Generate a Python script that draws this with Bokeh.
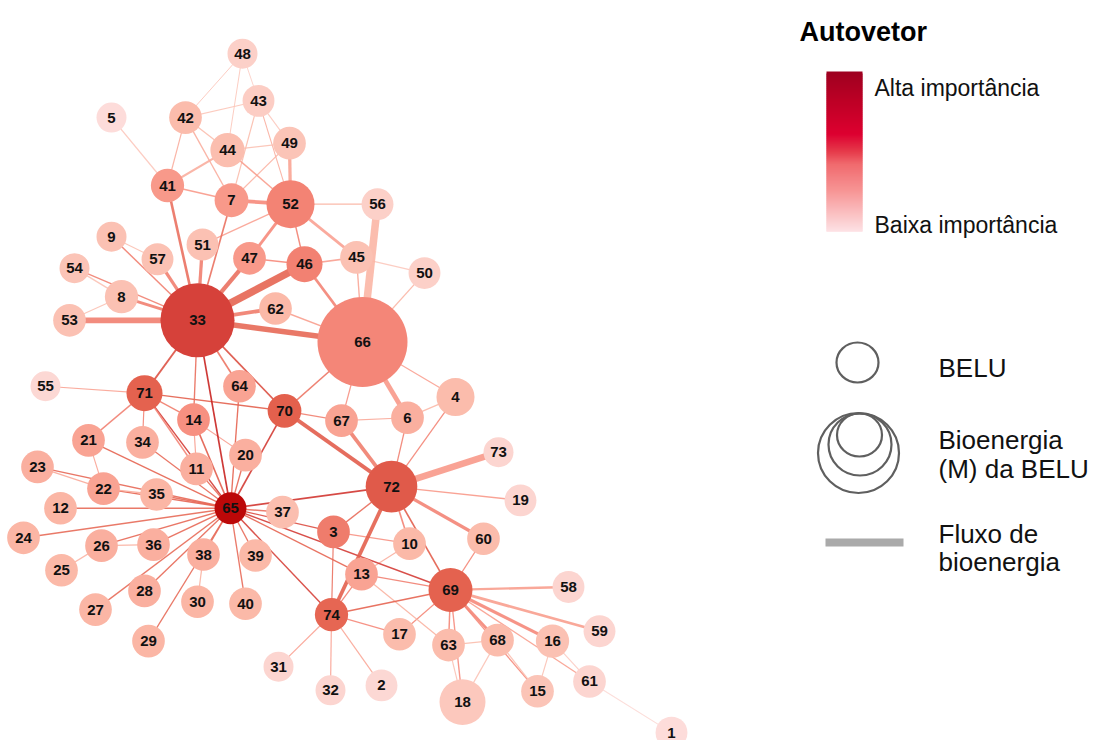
import numpy as np
from bokeh.plotting import figure
from bokeh.models import ColumnDataSource, Range1d, LinearColorMapper
from bokeh.transform import transform
from bokeh.core.properties import value
from bokeh.embed import file_html
from bokeh.resources import INLINE

# ---------------- data ----------------
node_id = list(range(1, 75))
# layout coordinates of each BELU (network layout)
node_x = [671, 381, 333, 455, 111, 407, 231, 121, 111, 409,
          196, 60, 361, 193, 537, 552, 399, 462, 520, 245,
          88, 103, 37, 23, 61, 101, 95, 144, 148, 197,
          278, 330, 197, 142, 156, 153, 282, 203, 255, 245,
          167, 185, 258, 227, 356, 304, 249, 242, 289, 424,
          202, 290, 69, 74, 45, 377, 157, 568, 599, 483,
          589, 275, 448, 239, 230, 362, 341, 497, 450, 284,
          144, 391, 498, 331]
node_y = [744, 696, 540, 403, 119, 424, 203, 301, 240, 552,
          476, 516, 583, 426, 702, 651, 644, 713, 508, 462,
          447, 496, 474, 546, 579, 554, 619, 600, 651, 611,
          677, 701, 325, 449, 502, 553, 520, 563, 564, 613,
          188, 119, 102, 152, 261, 268, 262, 54, 145, 277,
          248, 207, 325, 272, 392, 207, 263, 596, 641, 547,
          692, 313, 655, 392, 516, 347, 427, 650, 599, 417,
          399, 494, 459, 624]
# eigenvector centrality (relative)
eigen = [0.08, 0.12, 0.60, 0.33, 0.08, 0.38, 0.45, 0.30, 0.30, 0.35,
         0.38, 0.36, 0.42, 0.48, 0.28, 0.30, 0.33, 0.25, 0.15, 0.38,
         0.42, 0.42, 0.38, 0.36, 0.35, 0.38, 0.36, 0.38, 0.36, 0.36,
         0.15, 0.15, 0.85, 0.38, 0.36, 0.38, 0.32, 0.38, 0.35, 0.35,
         0.45, 0.33, 0.22, 0.32, 0.30, 0.56, 0.45, 0.20, 0.28, 0.20,
         0.30, 0.55, 0.30, 0.28, 0.12, 0.20, 0.30, 0.15, 0.15, 0.33,
         0.15, 0.35, 0.33, 0.42, 1.00, 0.52, 0.42, 0.33, 0.72, 0.73,
         0.72, 0.75, 0.15, 0.70]
# bioenergy (M) of each BELU
bioenergy = [1, 1, 2, 18, 0, 2, 4, 3, 0, 2,
             2, 2, 2, 2, 2, 3, 2, 71, 1, 2,
             2, 2, 2, 2, 2, 2, 2, 2, 2, 2,
             0, 0, 540, 2, 2, 2, 2, 2, 2, 2,
             3, 2, 1, 5, 2, 10, 2, 0, 2, 1,
             1, 90, 2, 0, 0, 1, 1, 1, 1, 2,
             2, 2, 2, 2, 1, 1000, 2, 2, 54, 4,
             10, 130, 0, 3]

# bioenergy flows (edges)
edge_from = [48, 48, 48, 43, 43, 43, 43, 42, 42, 42, 44, 44, 44, 49, 49, 5, 41, 41, 7, 7,
             52, 52, 52, 52, 52, 46, 46, 46, 46, 45, 45, 56, 50, 9, 9, 57, 51, 54, 54, 8,
             8, 53, 62, 62, 33, 47,
             33, 33, 33, 33, 33, 71, 71, 71, 71, 71, 71, 71, 14, 14, 14, 64, 70, 20, 11, 70,
             70, 70, 66, 66, 66, 67, 67, 6, 6, 4, 72, 72, 72, 72, 72, 72, 72, 72,
             21, 21, 23, 23, 22, 22, 35, 12, 24, 26, 26, 25, 36, 27, 28, 29, 38, 30, 40, 39,
             34, 37,
             3, 3, 3, 65, 65, 65, 13, 13, 13, 13, 74, 74, 74, 74, 74, 69, 69, 69, 69, 69,
             69, 69, 69, 69, 69, 63, 63, 68, 68, 16, 16, 61]
edge_to = [42, 44, 43, 42, 49, 52, 7, 44, 41, 7, 49, 41, 52, 7, 52, 41, 7, 33, 52, 33,
           51, 47, 46, 45, 56, 47, 45, 66, 33, 66, 50, 66, 66, 57, 33, 33, 33, 8, 33, 53,
           33, 33, 33, 66, 66, 33,
           71, 14, 65, 64, 70, 55, 70, 14, 21, 34, 11, 65, 11, 65, 20, 65, 65, 65, 65, 66,
           67, 72, 67, 6, 4, 6, 72, 4, 72, 72, 73, 19, 60, 65, 3, 10, 69, 74,
           22, 65, 22, 65, 35, 65, 65, 65, 65, 36, 65, 26, 65, 65, 65, 65, 65, 38, 65, 65,
           65, 65,
           65, 74, 10, 69, 74, 13, 74, 69, 10, 63, 69, 17, 31, 32, 2, 17, 63, 68, 16, 59,
           58, 60, 15, 61, 18, 68, 18, 18, 15, 15, 61, 1]
edge_flow = [0.1, 0.1, 0.1, 0.2, 0.2, 0.2, 0.3, 0.4, 0.3, 0.5, 0.3, 1.2, 0.6, 0.3, 2.5, 0.4, 0.6, 1.8, 3.0, 0.8,
             0.5, 2.2, 0.6, 2.0, 0.3, 0.5, 0.8, 2.0, 7.0, 0.5, 0.3, 7.0, 0.4, 0.2, 0.6, 2.5, 2.5, 0.6, 0.5, 0.3,
             2.2, 5.0, 3.0, 0.5, 5.0, 3.5,
             1.0, 0.5, 0.8, 0.8, 0.8, 0.3, 0.5, 0.5, 0.5, 0.3, 0.8, 0.5, 0.3, 0.8, 0.3, 0.5, 0.8, 0.5, 0.5, 0.6,
             0.4, 3.0, 0.4, 4.0, 0.4, 0.3, 3.0, 0.5, 0.4, 0.4, 6.0, 0.6, 2.5, 0.8, 0.5, 0.8, 0.8, 3.0,
             0.3, 0.5, 0.5, 0.5, 0.5, 0.5, 0.5, 0.5, 0.6, 0.5, 0.5, 0.5, 0.5, 0.5, 0.5, 0.4, 0.5, 0.4, 0.5, 0.5,
             0.4, 0.5,
             0.5, 0.3, 0.3, 0.6, 0.6, 0.5, 0.4, 0.4, 0.3, 0.3, 0.7, 0.4, 0.3, 0.3, 0.3, 0.3, 0.6, 2.0, 2.5, 2.0,
             1.5, 0.4, 0.4, 0.4, 0.5, 0.3, 0.3, 0.3, 0.4, 0.3, 0.3, 0.2]

legend_title = "Autovetor"
legend_high = "Alta importância"
legend_low = "Baixa importância"
legend_items = ["BELU", "Bioenergia", "(M) da BELU", "Fluxo de", "bioenergia"]

# ---------------- styling helpers ----------------
def interp_palette(anchors, n=256):
    pos = np.array([a[0] for a in anchors])
    rgb = np.array([[int(a[1][i:i + 2], 16) for i in (1, 3, 5)] for a in anchors], dtype=float)
    t = np.linspace(0, 1, n)
    out = []
    for tt in t:
        c = [np.interp(tt, pos, rgb[:, k]) for k in range(3)]
        out.append("#%02x%02x%02x" % tuple(int(round(v)) for v in c))
    return out

node_palette = interp_palette([(0.0, "#fde4e6"), (0.2, "#fcd0c8"), (0.35, "#fbb9a8"),
                               (0.5, "#f6897b"), (0.6, "#ef7c6c"), (0.72, "#e4624f"),
                               (0.85, "#d6413a"), (1.0, "#bc0808")])
mapper = LinearColorMapper(palette=node_palette, low=0, high=1)

idx = {n: i for i, n in enumerate(node_id)}
radius = [15 + 30 * np.sqrt(m / 1000.0) for m in bioenergy]

order = np.argsort(edge_flow)
ex0 = [node_x[idx[edge_from[i]]] for i in order]
ey0 = [node_y[idx[edge_from[i]]] for i in order]
ex1 = [node_x[idx[edge_to[i]]] for i in order]
ey1 = [node_y[idx[edge_to[i]]] for i in order]
eeig = [(eigen[idx[edge_from[i]]] + eigen[idx[edge_to[i]]]) / 2 for i in order]
ew = [0.9 + 0.95 * edge_flow[i] for i in order]

edges = ColumnDataSource(dict(x0=ex0, y0=ey0, x1=ex1, y1=ey1, eig=eeig, w=ew))
nodes = ColumnDataSource(dict(x=node_x, y=node_y, r=radius, eig=eigen,
                              label=[str(n) for n in node_id]))

# ---------------- figure ----------------
W, H = 1093, 740
YSPAN = 752
p = figure(width=W, height=H, x_range=Range1d(0, W), y_range=Range1d(YSPAN, 0),
           output_backend="svg", toolbar_location=None, min_border=0)
p.axis.visible = False
p.grid.visible = False
p.outline_line_color = None
p.background_fill_color = "white"

p.segment(x0="x0", y0="y0", x1="x1", y1="y1", source=edges,
          line_color=transform("eig", mapper), line_width="w", line_alpha=0.9)
p.circle(x="x", y="y", radius="r", source=nodes,
         fill_color=transform("eig", mapper), line_color=None)
p.text(x="x", y="y", text="label", source=nodes, text_align="center",
       text_baseline="middle", text_font=value("Liberation Sans"),
       text_font_size="15px", text_font_style="bold", text_color="#111111")

# ---------------- legend (placed in screen pixels) ----------------
def ly(v):
    return np.asarray(v, dtype=float) * YSPAN / H

font = value("Liberation Sans")
p.text(x=[799], y=ly([31]), text=[legend_title], text_font=font, text_font_size="27px",
       text_font_style="bold", text_color="#000000", text_baseline="middle")

bar_colors = interp_palette([(0.0, "#9e0020"), (0.18, "#bd0025"), (0.39, "#dd0030"),
                             (0.5, "#e63a4a"), (0.58, "#f06a6e"), (0.75, "#f79595"),
                             (1.0, "#fde0e3")], n=80)
ys = ly(np.linspace(71, 231, 81))
bottoms = np.minimum(ys[1:] + 2.0, ys[-1])
p.quad(left=826, right=862, top=ys[:-1], bottom=bottoms, fill_color=bar_colors,
       line_color=None)
p.text(x=[874, 874], y=ly([87, 224]), text=[legend_high, legend_low], text_font=font,
       text_font_size="23px", text_color="#111111", text_baseline="middle")

p.ellipse(x=857, y=ly([362])[0], width=42, height=40 * YSPAN / H, fill_color=None,
          line_color="#5f5f5f", line_width=2.2)
p.ellipse(x=[858, 859.5, 859], y=ly([452.5, 444, 434.5]),
          width=[81, 63, 45], height=list(ly([80, 62, 43])),
          fill_color=None, line_color="#5f5f5f", line_width=2.2)
p.segment(x0=[825], y0=ly([542]), x1=[903], y1=ly([542]), line_color="#aaaaaa",
          line_width=8)

p.text(x=[938] * 5, y=ly([367, 439, 468, 533, 561]), text=legend_items, text_font=font,
       text_font_size="26px", text_color="#111111", text_baseline="middle")

open("out.html", "w").write(file_html(p, INLINE))
